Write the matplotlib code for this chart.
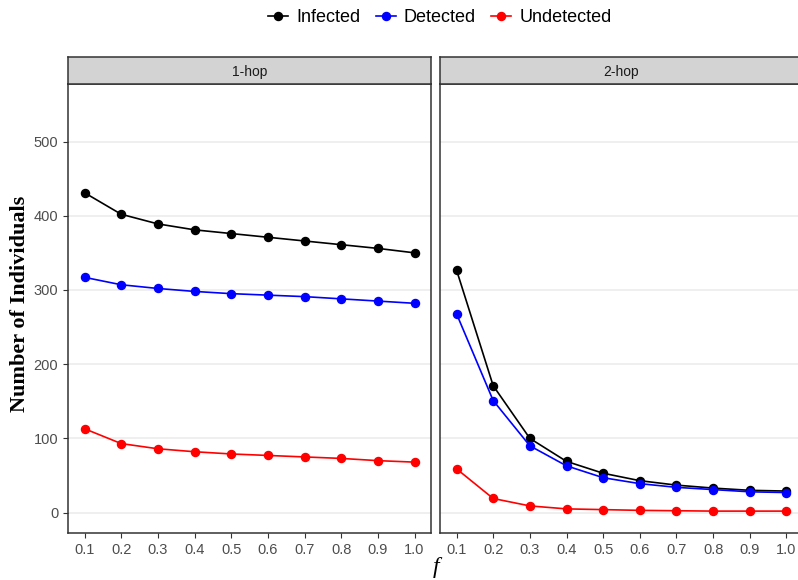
import numpy as np
import matplotlib
matplotlib.use('Agg')
import matplotlib.pyplot as plt

# fracao de contatos rastreados
f_vals = [0.1, 0.2, 0.3, 0.4, 0.5, 0.6, 0.7, 0.8, 0.9, 1.0]
paineis = ['1-hop', '2-hop']
series = ['Infected', 'Detected', 'Undetected']
cores = {'Infected': 'black', 'Detected': '#0000FF', 'Undetected': '#FF0000'}

infected_1hop = [431, 402, 389, 381, 376, 371, 366, 361, 356, 350]
detected_1hop = [317, 307, 302, 298, 295, 293, 291, 288, 285, 282]
undetected_1hop = [113, 93, 86, 82, 79, 77, 75, 73, 70, 68]

infected_2hop = [327, 171, 100, 69, 53, 43, 37, 33, 30, 29]
detected_2hop = [268, 151, 90, 63, 47, 39, 34, 31, 28, 27]
undetected_2hop = [59, 19, 9, 5, 4, 3, 2.5, 2, 2, 2]

dados = {
    '1-hop': {'Infected': infected_1hop, 'Detected': detected_1hop, 'Undetected': undetected_1hop},
    '2-hop': {'Infected': infected_2hop, 'Detected': detected_2hop, 'Undetected': undetected_2hop},
}

plt.rcParams['font.family'] = ['Liberation Sans', 'DejaVu Sans']

W, H = 798, 580
fig = plt.figure(figsize=(W / 100, H / 100), dpi=100)

def fx(px): return px / W
def fy(px): return 1 - px / H

top, bottom, strip_top = 84, 533, 57
lefts = [68, 440]
largura = 363

borda = '#333333'
for i, nome in enumerate(paineis):
    ax = fig.add_axes([fx(lefts[i]), fy(bottom), largura / W, (bottom - top) / H])
    for s in series:
        ax.plot(f_vals, dados[nome][s], color=cores[s], marker='o', markersize=5.8,
                linewidth=1.2, label=s, zorder=3)
    ax.set_xlim(0.055, 1.045)
    ax.set_ylim(-27.5, 577.5)
    ax.set_xticks(f_vals, [f'{v:.1f}' for v in f_vals])
    ax.set_yticks(range(0, 600, 100))
    ax.grid(axis='y', color='#EBEBEB', linewidth=1.1, zorder=0)
    ax.tick_params(colors=borda, labelcolor='#4D4D4D', labelsize=10.5, length=3.5, width=0.8,
                   pad=3.5)
    if i > 0:
        ax.tick_params(axis='y', left=False, labelleft=False)
    for sp in ax.spines.values():
        sp.set_color(borda)
        sp.set_linewidth(1.1)

    # faixa do titulo do painel
    sax = fig.add_axes([fx(lefts[i]), fy(top), largura / W, (top - strip_top) / H])
    sax.set_facecolor('#D3D3D3')
    sax.set_xticks([]); sax.set_yticks([])
    for sp in sax.spines.values():
        sp.set_color(borda)
        sp.set_linewidth(1.1)
    sax.text(0.5, 0.45, nome, ha='center', va='center', fontsize=10, color='#1A1A1A',
             transform=sax.transAxes)

    if i == 0:
        handles, labels = ax.get_legend_handles_labels()

fig.legend(handles, labels, loc='center', bbox_to_anchor=(fx(440), fy(18)), ncol=3,
           frameon=False, fontsize=13, handlelength=1.1, handletextpad=0.45,
           columnspacing=0.85)

fig.text(fx(20), fy(304), 'Number of Individuals', rotation=90, ha='center', va='center',
         fontsize=16, fontweight='bold', family=['Liberation Serif', 'DejaVu Serif'])
fig.text(fx(436), fy(567), 'f', ha='center', va='center', fontsize=17, style='italic',
         family=['Liberation Serif', 'DejaVu Serif'])

fig.savefig('out.png', dpi=100)
